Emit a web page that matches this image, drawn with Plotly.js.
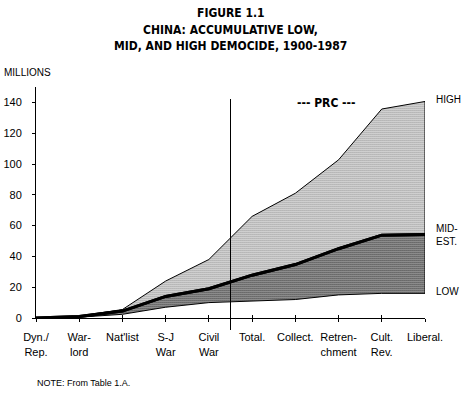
<!DOCTYPE html>
<html><head><meta charset="utf-8">
<script src="https://cdn.plot.ly/plotly-3.0.1.min.js"></script>
<style>body{margin:0;background:#fff}</style>
</head><body><div id="chart" style="width:466px;height:398px"></div>
<script>
const categories = ["Dyn./<br>Rep.", "War-<br>lord", "Nat'list", "S-J<br>War", "Civil<br>War", "Total.", "Collect.", "Retren-<br>chment", "Cult.<br>Rev.", "Liberal."];
const lowEst  = [0, 0.5, 2.4, 7, 10, 11, 12, 15, 16, 16];
const midEst  = [0, 1, 4.5, 14, 19, 27.8, 34.7, 45, 53.8, 54.3];
const highEst = [0, 1.2, 5.5, 24, 38, 66, 81, 102.7, 135.7, 140.6];
const yTicks  = [0, 20, 40, 60, 80, 100, 120, 140];
const titleLines = ['FIGURE 1.1', 'CHINA: ACCUMULATIVE LOW,', 'MID, AND HIGH DEMOCIDE, 1900-1987'];
const prcStart = 4.5; // boundary between pre-PRC and PRC periods

const idx = categories.map((_, i) => i);
const last = idx.length - 1;
const FONT = '"Liberation Sans", Arial, sans-serif';
const BOLD = '"DejaVu Sans Condensed", "DejaVu Sans", sans-serif';

const traces = [
  {x: idx, y: lowEst, mode: 'lines', line: {color: '#000', width: 1}, hoverinfo: 'skip'},
  {x: idx, y: midEst, mode: 'lines', fill: 'tonexty', line: {color: '#000', width: 3},
   fillcolor: '#fff',
   fillpattern: {shape: '.', size: 2, solidity: 0.6, fgcolor: '#000', bgcolor: '#fff'}, hoverinfo: 'skip'},
  {x: idx, y: highEst, mode: 'lines', fill: 'tonexty', line: {color: '#000', width: 1},
   fillcolor: '#fff',
   fillpattern: {shape: '.', size: 2, solidity: 0.3, fgcolor: '#000', bgcolor: '#fff'}, hoverinfo: 'skip'},
  {x: idx, y: midEst, mode: 'lines', line: {color: '#000', width: 3}, hoverinfo: 'skip'},
  {x: [idx[last], idx[last]], y: [lowEst[last], highEst[last]], mode: 'lines', line: {color: '#000', width: 1}, hoverinfo: 'skip'},
  {x: [0], y: [0], xaxis: 'x2', mode: 'markers', marker: {opacity: 0}, hoverinfo: 'skip'}
];

const titleY = [1.320, 1.247, 1.177];
const titleAnns = titleLines.map((t, i) => ({
  text: '<b>' + t + '</b>', xref: 'paper', yref: 'paper', x: 0.5, y: titleY[i],
  xanchor: 'center', yanchor: 'middle', showarrow: false,
  font: {family: BOLD, size: 12, color: '#000'}
}));

const layout = {
  width: 466, height: 398,
  margin: {l: 36, r: 41, t: 87, b: 80},
  paper_bgcolor: '#fff', plot_bgcolor: '#fff',
  showlegend: false,
  font: {family: FONT, size: 11, color: '#000'},
  xaxis: {
    range: [0, last], tickvals: idx, ticktext: categories,
    showgrid: false, zeroline: false, showline: true, linecolor: '#000', linewidth: 1,
    ticks: 'outside', ticklen: 3, tickcolor: '#000', tickwidth: 1,
    ticklabelstandoff: 6,
    tickfont: {family: FONT, size: 11}, fixedrange: true
  },
  xaxis2: {
    overlaying: 'x', anchor: 'y', side: 'bottom', range: [0, last], tickvals: idx,
    showgrid: false, zeroline: false, showline: false, showticklabels: false,
    ticks: 'inside', ticklen: 3, tickcolor: '#000', tickwidth: 1
  },
  yaxis: {
    range: [0, 150], tickvals: yTicks,
    showgrid: false, zeroline: false, showline: true, linecolor: '#000', linewidth: 1,
    ticks: 'outside', ticklen: 3, tickcolor: '#000', tickwidth: 1,
    ticklabelstandoff: 8,
    tickfont: {family: FONT, size: 11}, fixedrange: true
  },
  shapes: [
    {type: 'line', xref: 'x', yref: 'paper', x0: prcStart, x1: prcStart, y0: -0.052, y1: 0.948,
     line: {color: '#000', width: 1}}
  ],
  annotations: titleAnns.concat([
    {text: '<b>--- PRC ---</b>', xref: 'paper', yref: 'paper', x: 0.748, y: 0.931,
     xanchor: 'center', yanchor: 'middle', showarrow: false, font: {family: BOLD, size: 12}},
    {text: 'HIGH', xref: 'paper', yref: 'paper', x: 1.023, y: 0.944,
     xanchor: 'left', yanchor: 'middle', showarrow: false, font: {size: 10}},
    {text: 'MID-<br>EST.', xref: 'paper', yref: 'paper', x: 1.023, y: 0.359, align: 'left',
     xanchor: 'left', yanchor: 'middle', showarrow: false, font: {size: 10}},
    {text: 'LOW', xref: 'paper', yref: 'paper', x: 1.023, y: 0.113,
     xanchor: 'left', yanchor: 'middle', showarrow: false, font: {size: 10}},
    {text: 'MILLIONS', xref: 'paper', yref: 'paper', x: -0.0874, y: 1.061,
     xanchor: 'left', yanchor: 'middle', showarrow: false, font: {size: 10}},
    {text: 'NOTE: From Table 1.A.', xref: 'paper', yref: 'paper', x: -0.0026, y: -0.281,
     xanchor: 'left', yanchor: 'middle', showarrow: false, font: {size: 9}}
  ])
};

Plotly.newPlot('chart', traces, layout, {displayModeBar: false, staticPlot: true});
</script></body></html>
